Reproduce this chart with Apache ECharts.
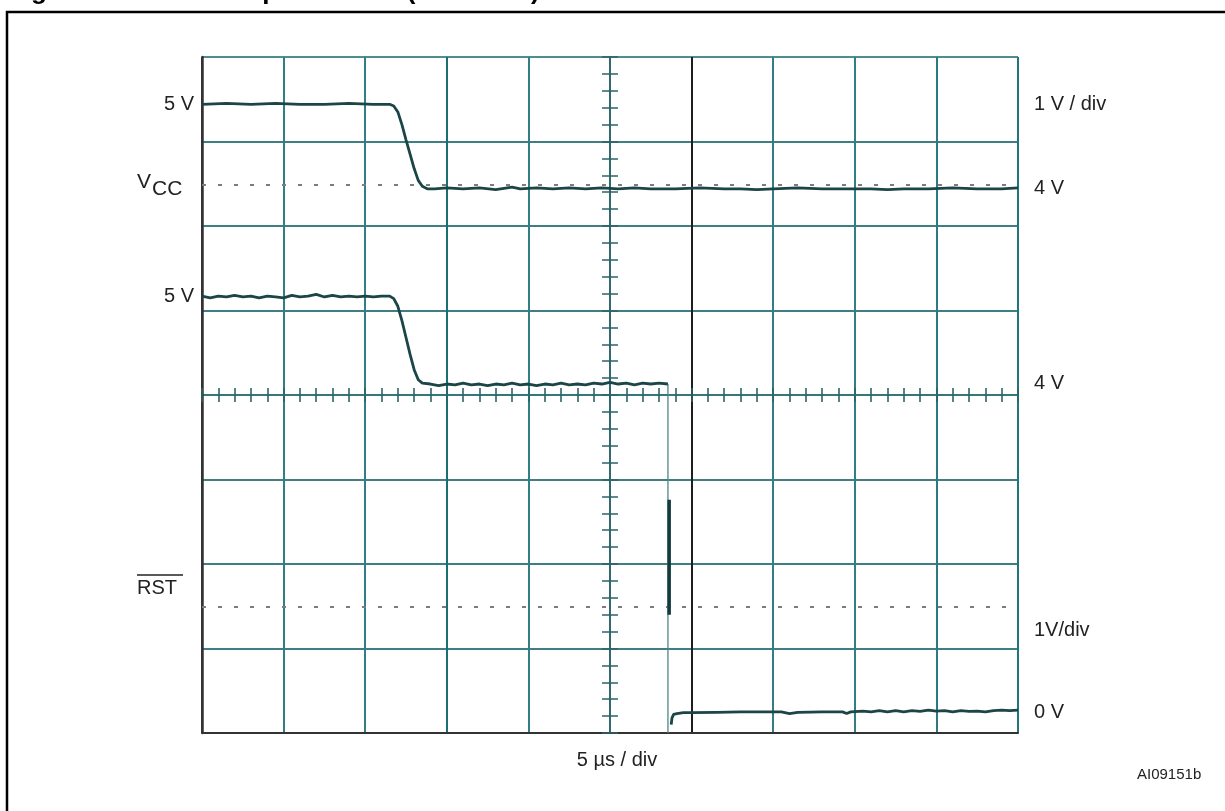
<!DOCTYPE html>
<html><head><meta charset="utf-8">
<script src="https://cdn.jsdelivr.net/npm/echarts/dist/echarts.min.js"></script>
<style>html,body{margin:0;padding:0;background:#fff}#c{width:1225px;height:811px}</style>
</head><body><div id="c"></div>
<script>
// Oscilloscope screen: 10 horizontal divisions (5 µs/div), 8 vertical divisions
const xRange = [0, 10];
const yRange = [0, 8];

// Channel 1 (VCC), in divisions
const vccTrace = [[0,7.44],[0.3,7.45],[0.6,7.44],[0.9,7.45],[1.2,7.44],[1.5,7.44],[1.8,7.45],[2.1,7.44],[2.3,7.44],[2.35,7.42],[2.4,7.35],[2.45,7.2],[2.5,7.02],[2.55,6.85],[2.6,6.68],[2.65,6.54],[2.7,6.47],[2.76,6.44],[2.85,6.44],[3.0,6.45],[3.2,6.44],[3.4,6.45],[3.6,6.43],[3.8,6.46],[3.9,6.44],[4.1,6.45],[4.3,6.44],[4.5,6.45],[4.7,6.44],[4.9,6.45],[5.1,6.44],[5.3,6.45],[5.5,6.44],[5.8,6.44],[6.1,6.45],[6.4,6.44],[6.6,6.44],[6.8,6.43],[7.0,6.44],[7.3,6.45],[7.6,6.44],[7.9,6.44],[8.2,6.44],[8.4,6.43],[8.6,6.44],[8.9,6.44],[9.2,6.45],[9.5,6.44],[9.8,6.44],[10,6.45]];

// Channel 2 (VCC, second trace)
const vccTrace2 = [[0,5.17],[0.1,5.15],[0.2,5.17],[0.3,5.16],[0.4,5.18],[0.5,5.16],[0.6,5.17],[0.7,5.15],[0.8,5.17],[0.9,5.16],[1.0,5.15],[1.1,5.18],[1.2,5.16],[1.3,5.17],[1.4,5.19],[1.5,5.16],[1.6,5.18],[1.7,5.16],[1.8,5.17],[1.9,5.16],[2.0,5.17],[2.1,5.16],[2.2,5.17],[2.3,5.17],[2.35,5.14],[2.4,5.05],[2.45,4.88],[2.5,4.68],[2.55,4.48],[2.6,4.3],[2.65,4.18],[2.7,4.14],[2.8,4.13],[2.9,4.11],[3.0,4.13],[3.1,4.12],[3.2,4.14],[3.3,4.12],[3.4,4.13],[3.5,4.11],[3.6,4.13],[3.7,4.12],[3.8,4.14],[3.9,4.12],[4.0,4.13],[4.1,4.11],[4.2,4.13],[4.3,4.12],[4.4,4.14],[4.5,4.12],[4.6,4.13],[4.7,4.12],[4.8,4.14],[4.9,4.13],[5.0,4.15],[5.1,4.13],[5.2,4.14],[5.3,4.12],[5.4,4.14],[5.5,4.13],[5.6,4.14],[5.71,4.13]];

// RST transition
const rstDrop = [[5.71,4.13],[5.71,0]];
const rstEdge = [[5.725,2.76],[5.725,1.40]];
const rstLow = [[5.75,0.1],[5.76,0.18],[5.78,0.22],[5.82,0.23],[5.9,0.24],[6.0,0.24],[6.3,0.245],[6.6,0.25],[6.9,0.25],[7.1,0.25],[7.2,0.23],[7.3,0.245],[7.6,0.25],[7.85,0.25],[7.9,0.23],[7.95,0.25],[8.1,0.26],[8.2,0.25],[8.3,0.265],[8.4,0.25],[8.5,0.265],[8.6,0.25],[8.7,0.265],[8.8,0.255],[8.9,0.27],[9.0,0.26],[9.1,0.265],[9.2,0.25],[9.3,0.265],[9.4,0.255],[9.5,0.26],[9.6,0.25],[9.7,0.265],[9.8,0.27],[9.9,0.265],[10,0.27]];

// Reference (ground) markers
const vccMarker = 6.49;
const rstMarker = 1.49;

// Text labels
const leftLabels = ['5 V', '5 V'];
const rightLabels = ['1 V / div', '4 V', '4 V', '1V/div', '0 V'];
const xUnitLabel = '5 µs / div';
const figId = 'AI09151b';

const FONT = '"Liberation Sans", Arial, sans-serif';
const vSplitColors = ['#333','#2f7f84','#2f7f84','#1a6f74','#2f7f84','#2f6a6e','#1e1e1e','#2f7f84','#2f7f84','#2a7a80','#1f777d'];
const hSplitColors = ['#3a3a3a','#3d7f83','#3d7f83','#3d7f83','#35787c','#3d7f83','#3d7f83','#3d7f83','#4f8d91'];

const chart = echarts.init(document.getElementById('c'), null, {renderer:'canvas'});

function centerX(inside){
  return {type:'value', min:xRange[0], max:xRange[1], interval:1, position:'bottom', offset:-338,
    axisLine:{show:false}, axisLabel:{show:false}, splitLine:{show:false},
    axisTick:{show:true, inside:inside, length:7, lineStyle:{color:'#2c6468', width:1.6}},
    minorTick:{show:true, splitNumber:5, length:7, lineStyle:{color:'#2c6468', width:1.6}}};
}
function centerY(inside){
  return {type:'value', min:yRange[0], max:yRange[1], interval:1, position:'left', offset:-408,
    axisLine:{show:false}, axisLabel:{show:false}, splitLine:{show:false},
    axisTick:{show:true, inside:inside, length:8, lineStyle:{color:'#2c6468', width:1.5}},
    minorTick:{show:true, splitNumber:5, length:8, lineStyle:{color:'#2c6468', width:1.5}}};
}

const lineBase = {type:'line', showSymbol:false, symbol:'none', silent:true, animation:false};
const dotted = {type:[4,12], color:'#7d7d7d', width:2};

chart.setOption({
  animation:false,
  backgroundColor:'#fff',
  grid:{left:202, right:207, top:57, bottom:78, containLabel:false, outerBoundsMode:'none'},
  xAxis:[
    {type:'value', min:xRange[0], max:xRange[1], interval:1,
      axisLine:{show:true, lineStyle:{color:'#333', width:2}},
      axisTick:{show:false}, axisLabel:{show:false},
      splitLine:{show:true, lineStyle:{color:vSplitColors, width:2}}},
    centerX(false), centerX(true)
  ],
  yAxis:[
    {type:'value', min:yRange[0], max:yRange[1], interval:1,
      axisLine:{show:true, lineStyle:{color:'#333', width:2.5}},
      axisTick:{show:false}, axisLabel:{show:false},
      splitLine:{show:true, lineStyle:{color:hSplitColors, width:2}}},
    centerY(false), centerY(true)
  ],
  series:[
    Object.assign({}, lineBase, {name:'VCC', data:vccTrace, lineStyle:{color:'#1b4547', width:2.8}, z:5,
      markLine:{silent:true, symbol:['none','none'], label:{show:false}, animation:false,
        lineStyle:dotted, data:[{yAxis:vccMarker}]}}),
    Object.assign({}, lineBase, {name:'VCC2', data:vccTrace2, lineStyle:{color:'#1b4547', width:2.8}, z:5}),
    Object.assign({}, lineBase, {name:'drop', data:rstDrop, lineStyle:{color:'#4f8589', width:1.3}, z:4}),
    Object.assign({}, lineBase, {name:'edge', data:rstEdge, lineStyle:{color:'#133a3c', width:3.5}, z:5}),
    Object.assign({}, lineBase, {name:'RST', data:rstLow, lineStyle:{color:'#1b4547', width:2.8}, z:5,
      markLine:{silent:true, symbol:['none','none'], label:{show:false}, animation:false,
        lineStyle:dotted, data:[{yAxis:rstMarker}]}})
  ],
  graphic:[
    {type:'rect', shape:{x:7, y:12, width:1240, height:830}, style:{fill:null, stroke:'#000', lineWidth:2.5}, silent:true},
    {type:'text', x:8, y:5, style:{text:'Figure 8.', font:'bold 26px '+FONT, fill:'#000', textAlign:'left', textVerticalAlign:'bottom'}},
    {type:'text', x:164, y:5, style:{text:'RST response time (assertion)', font:'bold 26px '+FONT, fill:'#000', textAlign:'left', textVerticalAlign:'bottom'}},
    {type:'text', x:194, y:104, style:{text:leftLabels[0], font:'20px '+FONT, fill:'#222', textAlign:'right', textVerticalAlign:'middle'}},
    {type:'text', x:137, y:182, style:{text:'V', font:'21px '+FONT, fill:'#222', textAlign:'left', textVerticalAlign:'middle'}},
    {type:'text', x:152, y:189, style:{text:'CC', font:'21px '+FONT, fill:'#222', textAlign:'left', textVerticalAlign:'middle'}},
    {type:'text', x:194, y:296, style:{text:leftLabels[1], font:'20px '+FONT, fill:'#222', textAlign:'right', textVerticalAlign:'middle'}},
    {type:'text', x:137, y:588, style:{text:'RST', font:'20px '+FONT, fill:'#222', textAlign:'left', textVerticalAlign:'middle'}},
    {type:'line', shape:{x1:137, y1:575, x2:183, y2:575}, style:{stroke:'#222', lineWidth:1.5}},
    {type:'text', x:1034, y:104, style:{text:rightLabels[0], font:'20px '+FONT, fill:'#222', textAlign:'left', textVerticalAlign:'middle'}},
    {type:'text', x:1034, y:188, style:{text:rightLabels[1], font:'20px '+FONT, fill:'#222', textAlign:'left', textVerticalAlign:'middle'}},
    {type:'text', x:1034, y:383, style:{text:rightLabels[2], font:'20px '+FONT, fill:'#222', textAlign:'left', textVerticalAlign:'middle'}},
    {type:'text', x:1034, y:630, style:{text:rightLabels[3], font:'20px '+FONT, fill:'#222', textAlign:'left', textVerticalAlign:'middle'}},
    {type:'text', x:1034, y:712, style:{text:rightLabels[4], font:'20px '+FONT, fill:'#222', textAlign:'left', textVerticalAlign:'middle'}},
    {type:'text', x:617, y:760, style:{text:xUnitLabel, font:'20px '+FONT, fill:'#222', textAlign:'center', textVerticalAlign:'middle'}},
    {type:'text', x:1137, y:775, style:{text:figId, font:'15px '+FONT, fill:'#222', textAlign:'left', textVerticalAlign:'middle'}}
  ]
});
</script>
</body></html>
